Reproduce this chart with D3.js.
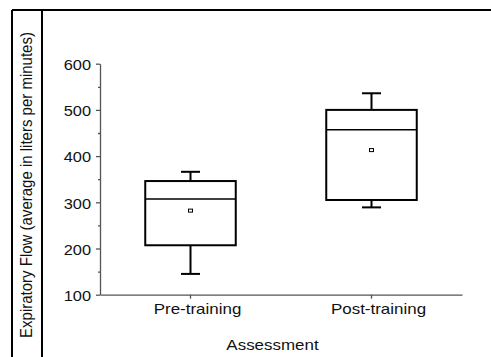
<!DOCTYPE html>
<html lang="en">
<head>
<meta charset="UTF-8">
<title>Expiratory flow box plot</title>
<script src="https://cdn.jsdelivr.net/npm/d3@7"></script>
<style>
  * { box-sizing: border-box; }
  body { margin: 0; background: #fff; }
  svg { display: block; font-family: 'Liberation Sans', Arial, sans-serif; }
</style>
</head>
<body>
<div id="chart"></div>
<script>
// data
var categories = ["Pre-training", "Post-training"];
var whiskerLow = [145, 289];
var q1 = [207, 305];
var median = [307, 457];
var q3 = [346, 500];
var whiskerHigh = [366, 536];
var means = [282, 413];
var yTicks = [100, 200, 300, 400, 500, 600];
var yMinor = [150, 250, 350, 450, 550];

var w = 491, h = 357;
var sx = 1.13; // text in the picture is a little wide

var svg = d3.select('#chart').append('svg').attr('width', w).attr('height', h);

// frame lines
svg.append('line').attr('x1', 12).attr('x2', w).attr('y1', 10).attr('y2', 10)
  .attr('stroke', '#000').attr('stroke-width', 2);
svg.append('line').attr('x1', 12).attr('x2', 12).attr('y1', 10).attr('y2', h)
  .attr('stroke', '#000').attr('stroke-width', 2);
svg.append('line').attr('x1', 42).attr('x2', 42).attr('y1', 10).attr('y2', h)
  .attr('stroke', '#000').attr('stroke-width', 2);

var x = d3.scaleBand().domain(categories).range([100, 462])
  .paddingInner(0.5).paddingOuter(0.25);
var y = d3.scaleLinear().domain([100, 600]).range([294.7, 63.7]);

var axisColor = '#555';

// y axis
var yAxis = svg.append('g').attr('transform', 'translate(100,0)')
  .call(d3.axisLeft(y).tickValues(yTicks).tickSize(4).tickSizeOuter(0).tickPadding(5));
svg.append('g').attr('transform', 'translate(100,0)')
  .call(d3.axisLeft(y).tickValues(yMinor).tickSize(2).tickSizeOuter(0).tickFormat(''))
  .select('.domain').remove();

// x axis
var xAxis = svg.append('g').attr('transform', 'translate(0,294.7)')
  .call(d3.axisBottom(x).tickSize(4).tickSizeOuter(0).tickFormat(''));

svg.selectAll('.domain').attr('stroke', axisColor).attr('stroke-width', 1.3);
svg.selectAll('.tick line').attr('stroke', axisColor).attr('stroke-width', 1.3);

yAxis.selectAll('.tick text')
  .attr('font-size', 14.5).attr('fill', '#111').attr('font-family', null)
  .attr('x', -9 / sx).attr('dy', '0.4em')
  .attr('transform', 'scale(' + sx + ',1)');

// category labels
svg.append('g').selectAll('text').data(categories).join('text')
  .attr('transform', function(d) { return 'translate(' + (x(d) + x.bandwidth() / 2 + 7) + ',313.5) scale(' + sx + ',1)'; })
  .attr('text-anchor', 'middle').attr('font-size', 15).attr('fill', '#111')
  .text(function(d) { return d; });

// axis titles
svg.append('text')
  .attr('transform', 'translate(272.5,350) scale(' + sx + ',1)')
  .attr('text-anchor', 'middle').attr('font-size', 15).attr('fill', '#111')
  .text('Assessment');
svg.append('text')
  .attr('transform', 'translate(32,185) scale(' + sx + ',1) rotate(-90)')
  .attr('text-anchor', 'middle').attr('font-size', 15).attr('fill', '#111')
  .text('Expiratory Flow (average in liters per minutes)');

// boxes
var idx = d3.range(categories.length);
var cx = function(i) { return x(categories[i]) + x.bandwidth() / 2; };
var capW = 19;
var boxes = svg.append('g').attr('stroke', '#000').attr('fill', 'none');

boxes.selectAll('.whisker').data(idx).join('line').attr('class', 'whisker')
  .attr('x1', cx).attr('x2', cx)
  .attr('y1', function(i) { return y(whiskerHigh[i]); })
  .attr('y2', function(i) { return y(whiskerLow[i]); })
  .attr('stroke-width', 2);

boxes.selectAll('.cap-hi').data(idx).join('line').attr('class', 'cap-hi')
  .attr('x1', function(i) { return cx(i) - capW / 2; })
  .attr('x2', function(i) { return cx(i) + capW / 2; })
  .attr('y1', function(i) { return y(whiskerHigh[i]); })
  .attr('y2', function(i) { return y(whiskerHigh[i]); })
  .attr('stroke-width', 2);
boxes.selectAll('.cap-lo').data(idx).join('line').attr('class', 'cap-lo')
  .attr('x1', function(i) { return cx(i) - capW / 2; })
  .attr('x2', function(i) { return cx(i) + capW / 2; })
  .attr('y1', function(i) { return y(whiskerLow[i]); })
  .attr('y2', function(i) { return y(whiskerLow[i]); })
  .attr('stroke-width', 2);

boxes.selectAll('.box').data(idx).join('rect').attr('class', 'box')
  .attr('x', function(i) { return x(categories[i]); })
  .attr('width', x.bandwidth())
  .attr('y', function(i) { return y(q3[i]); })
  .attr('height', function(i) { return y(q1[i]) - y(q3[i]); })
  .attr('fill', '#fff').attr('stroke-width', 2);

boxes.selectAll('.median').data(idx).join('line').attr('class', 'median')
  .attr('x1', function(i) { return x(categories[i]); })
  .attr('x2', function(i) { return x(categories[i]) + x.bandwidth(); })
  .attr('y1', function(i) { return y(median[i]); })
  .attr('y2', function(i) { return y(median[i]); })
  .attr('stroke-width', 1.6);

boxes.selectAll('.mean').data(idx).join('rect').attr('class', 'mean')
  .attr('x', function(i) { return cx(i) - 2; })
  .attr('y', function(i) { return y(means[i]) - 1.5; })
  .attr('width', 4).attr('height', 3)
  .attr('fill', '#fff').attr('stroke-width', 1);
</script>
</body>
</html>
